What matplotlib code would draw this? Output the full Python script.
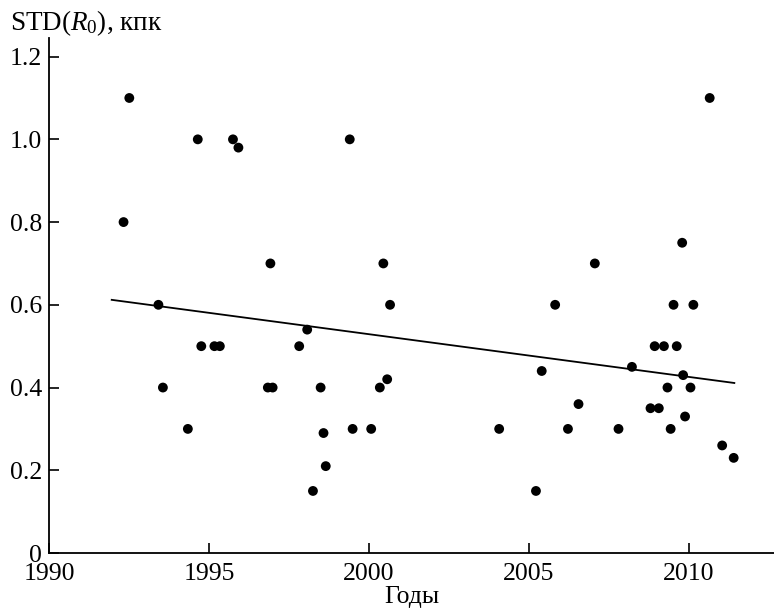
import matplotlib
matplotlib.use("Agg")
import matplotlib.pyplot as plt

plt.rcParams['font.family'] = ['Liberation Serif', 'DejaVu Serif']
plt.rcParams['mathtext.fontset'] = 'custom'
plt.rcParams['mathtext.rm'] = 'Liberation Serif'
plt.rcParams['mathtext.it'] = 'Liberation Serif:italic'

years = [1992.33, 1992.51, 1993.42, 1993.56, 1994.34, 1994.65, 1994.76, 1995.17, 1995.34,
         1995.75, 1995.92, 1996.84, 1996.92, 1996.99, 1997.82, 1998.07, 1998.25, 1998.49,
         1998.58, 1998.65, 1999.40, 1999.49, 2000.07, 2000.34, 2000.45, 2000.57, 2000.66,
         2004.07, 2005.22, 2005.40, 2005.82, 2006.22, 2006.55, 2007.06, 2007.80, 2008.22,
         2008.80, 2009.06, 2008.93, 2009.22, 2009.62, 2009.33, 2009.43, 2009.52, 2009.79,
         2009.82, 2009.88, 2010.05, 2010.14, 2010.65, 2011.04, 2011.40]
std_r0 = [0.80, 1.10, 0.60, 0.40, 0.30, 1.00, 0.50, 0.50, 0.50,
          1.00, 0.98, 0.40, 0.70, 0.40, 0.50, 0.54, 0.15, 0.40,
          0.29, 0.21, 1.00, 0.30, 0.30, 0.40, 0.70, 0.42, 0.60,
          0.30, 0.15, 0.44, 0.60, 0.30, 0.36, 0.70, 0.30, 0.45,
          0.35, 0.35, 0.50, 0.50, 0.50, 0.40, 0.30, 0.60, 0.75,
          0.43, 0.33, 0.40, 0.60, 1.10, 0.26, 0.23]

trend_x = [1991.96, 2011.42]
trend_y = [0.612, 0.411]

x_ticks = [1990, 1995, 2000, 2005, 2010]
x_tick_labels = ['1990', '1995', '2000', '2005', '2010']
y_ticks = [0, 0.2, 0.4, 0.6, 0.8, 1.0, 1.2]
y_tick_labels = ['0', '0.2', '0.4', '0.6', '0.8', '1.0', '1.2']

fig = plt.figure(figsize=(7.74, 6.10), dpi=100)
ax = fig.add_axes([49/774, 57/610, 1 - 49/774, (553 - 38)/610])

ax.plot(trend_x, trend_y, color='black', lw=1.3, zorder=2)
ax.scatter(years, std_r0, s=50, color='black', edgecolors='none', zorder=3)

ax.set_xlim(1990, 2012.66)
ax.set_ylim(0, 1.245)
ax.set_xticks(x_ticks)
ax.set_xticklabels(x_tick_labels)
ax.set_yticks(y_ticks)
ax.set_yticklabels(y_tick_labels)

for s in ['top', 'right']:
    ax.spines[s].set_visible(False)
for s in ['left', 'bottom']:
    ax.spines[s].set_linewidth(1.3)

ax.tick_params(axis='both', direction='in', length=7, width=1.2, labelsize=18.5,
               colors='black')
ax.tick_params(axis='x', pad=7)
ax.tick_params(axis='y', pad=5)

ax.set_xlabel('Годы', fontsize=18.5, labelpad=1)
fig.text(10/774, 1 - 30.5/610, 'STD$(R_0)$, кпк', fontsize=19.5, va='baseline', ha='left')

fig.savefig('out.png', dpi=100)
